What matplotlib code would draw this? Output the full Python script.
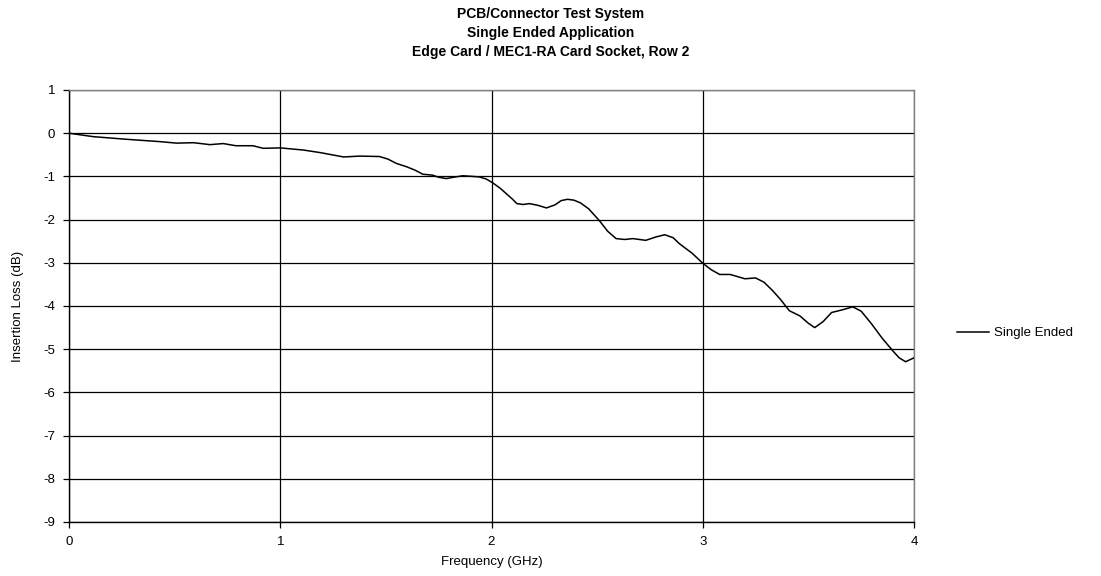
import matplotlib
matplotlib.use("Agg")
import matplotlib.pyplot as plt

plt.rcParams['font.family'] = ['Liberation Sans', 'DejaVu Sans']
plt.rcParams['axes.unicode_minus'] = False

freq_ghz = [0.0, 0.115, 0.27, 0.43, 0.51, 0.59, 0.667, 0.73, 0.79, 0.87, 0.92, 1.0,
            1.11, 1.19, 1.30, 1.376, 1.47, 1.51, 1.55, 1.60, 1.64, 1.675, 1.72, 1.75, 1.786,
            1.82, 1.864, 1.94, 1.975, 2.006, 2.04, 2.07, 2.10, 2.12, 2.15, 2.18, 2.22, 2.26,
            2.30, 2.33, 2.36, 2.39, 2.42, 2.46, 2.51, 2.55, 2.59, 2.63, 2.67, 2.73, 2.78,
            2.82, 2.86, 2.89, 2.95, 3.0, 3.04, 3.08, 3.13, 3.20, 3.25, 3.29, 3.33, 3.37,
            3.41, 3.46, 3.50, 3.53, 3.57, 3.61, 3.66, 3.71, 3.75, 3.80, 3.85, 3.90, 3.93,
            3.96, 4.0]
loss_db = [0.0, -0.08, -0.14, -0.195, -0.23, -0.22, -0.265, -0.24, -0.29, -0.29, -0.35, -0.34,
           -0.39, -0.45, -0.55, -0.53, -0.54, -0.60, -0.70, -0.78, -0.86, -0.95, -0.97, -1.02, -1.05,
           -1.02, -0.985, -1.01, -1.06, -1.15, -1.27, -1.40, -1.53, -1.63, -1.65, -1.63, -1.67, -1.73,
           -1.66, -1.56, -1.53, -1.55, -1.61, -1.75, -2.02, -2.27, -2.44, -2.46, -2.44, -2.48, -2.40,
           -2.35, -2.42, -2.56, -2.78, -3.01, -3.16, -3.27, -3.27, -3.37, -3.35, -3.45, -3.64, -3.86,
           -4.11, -4.23, -4.40, -4.50, -4.36, -4.15, -4.09, -4.02, -4.12, -4.42, -4.75, -5.04, -5.20,
           -5.29, -5.20]

title_lines = ["PCB/Connector Test System", "Single Ended Application",
               "Edge Card / MEC1-RA Card Socket, Row 2"]
x_ticks = [0, 1, 2, 3, 4]
y_ticks = [1, 0, -1, -2, -3, -4, -5, -6, -7, -8, -9]
series_name = "Single Ended"

fig = plt.figure(figsize=(11.01, 5.76), dpi=100)
ax = fig.add_axes([69/1101, 1-522/576, (914-69)/1101, (522-90)/576])

ax.plot(freq_ghz, loss_db, color='black', lw=1.1, label=series_name, zorder=3)
ax.set_xlim(0, 4)
ax.set_ylim(-9, 1)
ax.set_xticks(x_ticks)
ax.set_yticks(y_ticks)
ax.grid(True, color='black', lw=0.9)
ax.set_axisbelow(True)
ax.spines['top'].set_color('#808080')
ax.spines['right'].set_color('#808080')
ax.spines['left'].set_color('black')
ax.spines['bottom'].set_color('black')
for s in ax.spines.values():
    s.set_linewidth(1.0)
ax.tick_params(axis='both', labelsize=9.5, length=4, color='black', width=0.9)
ax.tick_params(axis='x', pad=6)
ax.tick_params(axis='y', pad=6)
ax.set_xlabel("Frequency (GHz)", fontsize=9.5, labelpad=6)
ax.set_ylabel("Insertion Loss (dB)", fontsize=9.5, labelpad=14)

fig.text(0.5, 1-14/576, title_lines[0], ha='center', va='center', fontsize=10, fontweight='bold')
fig.text(0.5, 1-33/576, title_lines[1], ha='center', va='center', fontsize=10, fontweight='bold')
fig.text(0.5, 1-52/576, title_lines[2], ha='center', va='center', fontsize=10, fontweight='bold')

leg = fig.legend(loc='center left', bbox_to_anchor=(945/1101, 1-333/576), frameon=False,
                 fontsize=9.5, handlelength=2.4, handletextpad=0.4)

fig.savefig("out.png", dpi=100)
